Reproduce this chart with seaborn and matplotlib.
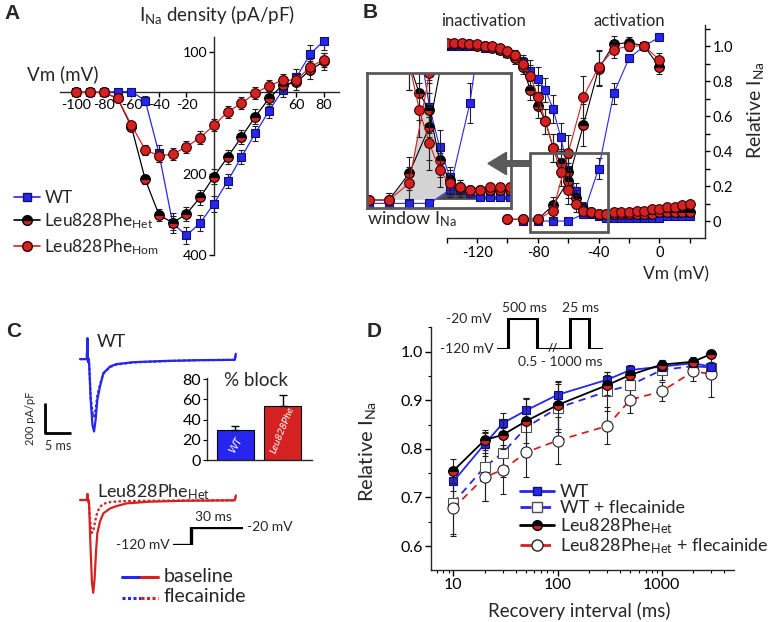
import numpy as np
import matplotlib
matplotlib.use('Agg')
import matplotlib.pyplot as plt
from matplotlib.lines import Line2D
from matplotlib.patches import Rectangle
from matplotlib.ticker import MultipleLocator, LogLocator, NullFormatter
import seaborn as sns

sns.set_style('ticks')
plt.rcParams['font.family'] = ['Lato', 'DejaVu Sans']
plt.rcParams['mathtext.fontset'] = 'custom'
plt.rcParams['mathtext.rm'] = 'Lato'
plt.rcParams['mathtext.it'] = 'Lato:italic'
plt.rcParams['axes.unicode_minus'] = False
plt.rcParams['axes.linewidth'] = 1.0
plt.rcParams['xtick.color'] = 'black'
plt.rcParams['ytick.color'] = 'black'

W, H = 769, 622
BLUE = '#2626ee'
RED = '#d42222'
GRAY = '#5a5a5a'

# ---- panel A: I-V relationship ----
iv_v = [-100, -90, -80, -70, -60, -50, -40, -30, -20, -10, 0, 10, 20, 30, 40, 50, 60, 70, 80]
iv_wt = [0, 0, 0, 2, 2, -20, -150, -322, -352, -321, -274, -218, -159, -101, -46, 6, 37, 94, 127]
iv_het = [0, 0, 0, -15, -85, -214, -301, -321, -299, -258, -207, -159, -110, -60, -15, 18, 25, 55, 76]
iv_hom = [0, 0, 0, -15, -81, -141, -156, -152, -134, -111, -81, -48, -27, -2, 16, 30, 30, 63, 80]
iv_wt_err = [2, 2, 2, 4, 6, 10, 20, 25, 22, 20, 20, 18, 18, 18, 18, 18, 20, 22, 22]
iv_het_err = [2, 2, 2, 6, 10, 12, 15, 18, 18, 18, 18, 18, 18, 18, 18, 18, 20, 22, 22]
iv_hom_err = [2, 2, 2, 6, 8, 12, 15, 15, 15, 15, 15, 15, 15, 15, 15, 15, 15, 18, 18]

# ---- panel B: inactivation / activation ----
inact_v = [-140, -135, -130, -125, -120, -115, -110, -105, -100, -95, -90, -85, -80, -75, -70,
           -65, -60, -55, -50, -45, -40, -35, -30, -25, -20, -15, -10, -5, 0, 5, 10, 15, 20]
inact_wt = [1.00, 1.00, 1.00, 1.00, 1.00, 0.99, 0.99, 0.98, 0.96, 0.94, 0.91, 0.86, 0.81, 0.75, 0.64,
            0.48, 0.29, 0.17, 0.08, 0.04, 0.03, 0.02, 0.02, 0.02, 0.02, 0.02, 0.02, 0.02, 0.02, 0.03, 0.03, 0.03, 0.03]
inact_het = [1.01, 1.01, 1.01, 1.01, 1.00, 1.00, 0.99, 0.98, 0.96, 0.93, 0.88, 0.75, 0.66, 0.57, 0.42,
             0.33, 0.28, 0.13, 0.07, 0.05, 0.04, 0.04, 0.04, 0.04, 0.04, 0.04, 0.04, 0.04, 0.05, 0.05, 0.05, 0.05, 0.05]
inact_hom = [1.02, 1.02, 1.02, 1.01, 1.01, 1.00, 1.00, 0.99, 0.97, 0.95, 0.90, 0.83, 0.71, 0.57, 0.42,
             0.28, 0.18, 0.10, 0.06, 0.05, 0.04, 0.04, 0.05, 0.05, 0.05, 0.06, 0.06, 0.07, 0.07, 0.08, 0.08, 0.09, 0.10]
inact_err = [0.01, 0.01, 0.01, 0.01, 0.01, 0.01, 0.01, 0.02, 0.02, 0.03, 0.04, 0.06, 0.07, 0.07, 0.08,
             0.08, 0.08, 0.05, 0.03, 0.02, 0.01, 0.01, 0.01, 0.01, 0.01, 0.01, 0.01, 0.01, 0.01, 0.01, 0.01, 0.01, 0.01]
act_v = [-100, -90, -80, -70, -60, -50, -40, -30, -20, -10, 0]
act_het = [0.01, 0.01, 0.01, 0.09, 0.23, 0.55, 0.87, 1.01, 1.02, 1.00, 0.88]
act_hom = [0.01, 0.01, 0.01, 0.06, 0.39, 0.71, 0.88, 0.98, 1.00, 1.00, 0.92]
act_err = [0.01, 0.01, 0.02, 0.05, 0.10, 0.12, 0.10, 0.05, 0.03, 0.02, 0.04]
act_wt_v = [-90, -80, -70, -60, -50, -40, -30, -20, -10, 0]
act_wt = [0.0, 0.0, 0.0, 0.0, 0.04, 0.30, 0.73, 0.93, 1.00, 1.05]
act_wt_err = [0.005, 0.005, 0.005, 0.005, 0.02, 0.06, 0.06, 0.02, 0.02, 0.01]

# ---- panel C: traces, protocol, % block ----
wt_t = [0, 1.3, 1.45, 1.55, 1.7, 1.8, 2.05, 2.4, 2.7, 3.0, 3.33, 3.85, 4.5, 5.8, 7.0, 10.3, 16.7, 23, 29.8, 30]
wt_base = [0, 0, 137, -20, 0, -60, -266, -430, -473, -400, -266, -179, -92, -48, -33, -20, -12, -7, -5, 35]
wt_flec = [0, 0, 137, -20, 0, -60, -240, -350, -375, -330, -240, -165, -95, -52, -36, -22, -13, -7, -5, 35]
het_t = [0, 1.3, 1.45, 1.55, 1.7, 1.8, 2.05, 2.3, 2.55, 2.8, 3.1, 3.33, 3.85, 4.5, 5.8, 7.0, 9.0, 13.5, 20, 29.8, 30]
het_base = [0, 0, 40, -10, 0, -80, -330, -540, -606, -520, -330, -218, -140, -87, -55, -40, -22, -11, -5, -2, 30]
het_flec = [0, 0, 40, -10, 0, -60, -170, -215, -200, -160, -110, -80, -45, -25, -14, -10, -7, -5, -3, -2, 30]
step_t = [-10, 0, 0, 30]
step_mv = [-120, -120, -20, -20]
block_groups = ['WT', 'Leu828Phe']
block_pct = [30, 53]
block_err = [4, 11]

# ---- panel D: recovery from inactivation ----
rec_ms = [10, 20, 30, 50, 100, 300, 500, 1000, 2000, 3000]
rec_wt = [0.733, 0.810, 0.853, 0.879, 0.911, 0.942, 0.962, 0.969, 0.976, 0.969]
rec_wt_flec = [0.689, 0.763, 0.792, 0.844, 0.884, 0.918, 0.931, 0.962, 0.970, 0.967]
rec_het = [0.755, 0.818, 0.829, 0.857, 0.890, 0.931, 0.952, 0.973, 0.979, 0.995]
rec_het_flec = [0.678, 0.742, 0.757, 0.793, 0.817, 0.847, 0.901, 0.918, 0.959, 0.954]
rec_wt_err = [0.02, 0.025, 0.02, 0.025, 0.027, 0.015, 0.01, 0.01, 0.008, 0.01]
rec_wt_flec_err = [0.065, 0.07, 0.05, 0.06, 0.05, 0.04, 0.03, 0.02, 0.015, 0.02]
rec_het_err = [0.025, 0.02, 0.03, 0.045, 0.05, 0.02, 0.01, 0.01, 0.01, 0.008]
rec_het_flec_err = [0.058, 0.05, 0.05, 0.05, 0.048, 0.038, 0.028, 0.02, 0.02, 0.048]
pulse_x = [0, 11.6, 11.6, 40, 40, 73.3, 73.3, 92.6, 92.6, 106.6]
pulse_mv = [-120, -120, -20, -20, -120, -120, -20, -20, -120, -120]


def fx(px):
    return px / W


def fy(py):
    return 1 - py / H


def box(l, t, r, b):
    return [fx(l), fy(b), (r - l) / W, (b - t) / H]


STYLES = {
    'wt': dict(color=BLUE, marker='s', markersize=6, markerfacecolor=BLUE, markeredgecolor='#101070'),
    'het': dict(color='black', marker='o', markersize=7, fillstyle='top', markerfacecolor='black',
                markerfacecoloralt=RED, markeredgecolor='black'),
    'hom': dict(color=RED, marker='o', markersize=7, markerfacecolor=RED, markeredgecolor='#3a0000'),
    'wt_flec': dict(color=BLUE, marker='s', markersize=6.5, markerfacecolor='white',
                    markeredgecolor='#505050', linestyle=(0, (4, 3))),
    'het_flec': dict(color=RED, marker='o', markersize=8, markerfacecolor='white',
                     markeredgecolor='#202020', linestyle=(0, (4, 3))),
}


def series(ax, x, y, err, key, lw=0.9, z=3, cap=2.2):
    ax.errorbar(x, y, yerr=err, fmt='none', ecolor='#202020', elinewidth=0.8,
                capsize=cap, capthick=0.8, zorder=z - 0.5)
    sns.lineplot(x=x, y=y, ax=ax, lw=lw, markeredgewidth=0.8, zorder=z, **STYLES[key])


fig = plt.figure(figsize=(W / 100, H / 100), dpi=100)

# ================= A =================
ax_a = fig.add_axes(box(60, 36.7, 339, 255))
series(ax_a, iv_v, iv_wt, iv_wt_err, 'wt', z=3)
series(ax_a, iv_v, iv_het, iv_het_err, 'het', z=4)
series(ax_a, iv_v, iv_hom, iv_hom_err, 'hom', z=5)
ax_a.set_xlim(-112, 91)
ax_a.set_ylim(-400, 137)
for s in ['top', 'right']:
    ax_a.spines[s].set_visible(False)
ax_a.spines['left'].set_position(('data', 0))
ax_a.spines['bottom'].set_position(('data', 0))
ax_a.set_xticks([-100, -80, -60, -40, -20, 60, 80])
ax_a.set_xticklabels(['-100', '-80', '-60', '-40', '-20', '60', '80'])
ax_a.set_yticks([100, -200, -400])
ax_a.set_yticklabels(['100', '200', '400'])
ax_a.tick_params(labelsize=10.3, length=3.5, width=1, pad=1.5)
ax_a.set_xlabel('')
ax_a.set_ylabel('')
fig.text(fx(139), fy(14), r'I$_{\mathregular{Na}}$ density (pA/pF)', fontsize=13.5, va='center')
fig.text(fx(27), fy(74), 'Vm (mV)', fontsize=13.5, va='center')

leg_a = [Line2D([], [], lw=1.2, **STYLES['wt']),
         Line2D([], [], lw=1.2, **STYLES['het']),
         Line2D([], [], lw=1.2, **STYLES['hom'])]
fig.legend(leg_a, ['WT', r'Leu828Phe$_{\mathregular{Het}}$', r'Leu828Phe$_{\mathregular{Hom}}$'],
           loc='upper left', bbox_to_anchor=(fx(14), fy(190)), frameon=False, fontsize=12.5,
           handlelength=1.5, handletextpad=0.25, labelspacing=0.32, borderpad=0, borderaxespad=0)

# ================= B =================
ax_b = fig.add_axes(box(446.7, 25, 705, 238))
ax_in = fig.add_axes(box(366.7, 73.3, 510.7, 207.7))
for ax in (ax_b, ax_in):
    series(ax, inact_v, inact_wt, inact_err, 'wt', lw=0.8, z=3)
    series(ax, act_wt_v, act_wt, act_wt_err, 'wt', lw=0.8, z=3)
    series(ax, inact_v, inact_het, inact_err, 'het', lw=0.8, z=4)
    series(ax, act_v, act_het, act_err, 'het', lw=0.8, z=4)
    series(ax, inact_v, inact_hom, inact_err, 'hom', lw=0.8, z=5)
    series(ax, act_v, act_hom, act_err, 'hom', lw=0.8, z=5)
    ax.set_xlabel('')
    ax.set_ylabel('')

ax_b.set_xlim(-138.8, 30)
ax_b.set_ylim(-0.097, 1.12)
ax_b.spines['left'].set_visible(False)
ax_b.spines['top'].set_visible(False)
ax_b.yaxis.tick_right()
ax_b.set_yticks([0, 0.2, 0.4, 0.6, 0.8, 1.0])
ax_b.set_yticklabels(['0', '0.2', '0.4', '0.6', '0.8', '1.0'])
ax_b.yaxis.set_minor_locator(MultipleLocator(0.1))
ax_b.set_xticks([-120, -80, -40, 0])
ax_b.set_xticks([-140, -100, -60, -20, 20], minor=True)
ax_b.tick_params(labelsize=10.5, length=3.5, width=1, pad=2)
ax_b.tick_params(which='minor', length=3.5, width=1)
ax_b.add_patch(Rectangle((-85, -0.065), 51, 0.452, fill=False, ec=GRAY, lw=2, zorder=6))
fig.text(fx(484), fy(21), 'inactivation', fontsize=12, ha='center', va='center')
fig.text(fx(629), fy(21), 'activation', fontsize=12, ha='center', va='center')
fig.text(fx(709), fy(274), 'Vm (mV)', fontsize=12.5, ha='right', va='center')
fig.text(fx(755), fy(110), r'Relative I$_{\mathregular{Na}}$', fontsize=14, rotation=90,
         ha='center', va='center')
fig.text(fx(367), fy(209), r'window I$_{\mathregular{Na}}$', fontsize=13, ha='left', va='top')
fig.patches.append(matplotlib.patches.FancyArrow(
    fx(530), fy(163.5), fx(488) - fx(530), 0, width=0.009, head_width=0.036, head_length=0.024,
    length_includes_head=True, color=GRAY, transform=fig.transFigure, figure=fig))

# inset: window current
grid_v = np.linspace(-80, -20, 241)
act_env = np.interp(grid_v, act_v, np.maximum(act_het, act_hom))
inact_env = np.interp(grid_v, inact_v, np.maximum(inact_het, inact_hom))
ax_in.fill_between(grid_v, 0.012, np.maximum(np.minimum(act_env, inact_env), 0.012),
                   color='#d3d3d3', lw=0, zorder=1)
wt_a = np.interp(grid_v, act_wt_v, act_wt)
wt_i = np.interp(grid_v, inact_v, inact_wt)
dark = np.minimum(wt_a, wt_i)
ax_in.fill_between(grid_v, 0.012, np.maximum(dark, 0.012), where=grid_v >= -57,
                   color='#4a4a4a', lw=0, zorder=1.5)
ax_in.set_xlim(-91, -19.8)
ax_in.set_ylim(-0.013, 0.39)
ax_in.set_xticks([])
ax_in.set_yticks([])
for s in ax_in.spines.values():
    s.set_color(GRAY)
    s.set_linewidth(2)
    s.set_zorder(10)
ax_in.set_facecolor('white')

# ================= C =================
ax_c1 = fig.add_axes(box(40, 330, 240, 450))
sns.lineplot(x=wt_t, y=wt_base, ax=ax_c1, color=BLUE, lw=1.6, sort=False, estimator=None)
sns.lineplot(x=wt_t, y=wt_flec, ax=ax_c1, color=BLUE, lw=1.6, sort=False, estimator=None,
             linestyle=(0, (1.2, 1)))
ax_c1.plot([-6.7, -6.7, -1.7], [-284, -484, -484], color='black', lw=2, solid_capstyle='butt')
ax_c1.set_xlim(-7.7, 30.8)
ax_c1.set_ylim(-594, 190)
ax_c1.axis('off')

ax_c2 = fig.add_axes(box(40, 470, 240, 605))
sns.lineplot(x=het_t, y=het_base, ax=ax_c2, color=RED, lw=1.6, sort=False, estimator=None)
sns.lineplot(x=het_t, y=het_flec, ax=ax_c2, color=RED, lw=1.6, sort=False, estimator=None,
             linestyle=(0, (1.2, 1)))
ax_c2.set_xlim(-7.7, 30.8)
ax_c2.set_ylim(-686, 196)
ax_c2.axis('off')

fig.text(fx(97), fy(342), 'WT', fontsize=13, ha='left', va='center')
fig.text(fx(97), fy(492), r'Leu828Phe$_{\mathregular{Het}}$', fontsize=13, ha='left', va='center')
fig.text(fx(30), fy(418), '200 pA/pF', fontsize=8, rotation=90, ha='center', va='center')
fig.text(fx(58), fy(446), '5 ms', fontsize=9, ha='center', va='center')

ax_cp = fig.add_axes(box(173, 526.7, 243, 545))
sns.lineplot(x=step_t, y=step_mv, ax=ax_cp, color='black', lw=2.4, sort=False, estimator=None)
ax_cp.set_xlim(-10, 30)
ax_cp.set_ylim(-120, -20)
ax_cp.axis('off')
fig.text(fx(170), fy(545), '-120 mV', fontsize=10, ha='right', va='center')
fig.text(fx(247), fy(527), '-20 mV', fontsize=10, ha='left', va='center')
fig.text(fx(213), fy(517), '30 ms', fontsize=10, ha='center', va='center')

fig.add_artist(Line2D([fx(122), fx(141)], [fy(576.7)] * 2, color=BLUE, lw=2.2))
fig.add_artist(Line2D([fx(141), fx(158)], [fy(576.7)] * 2, color=RED, lw=2.2))
fig.add_artist(Line2D([fx(122), fx(141)], [fy(598.3)] * 2, color=BLUE, lw=2.2, ls=(0, (1, 0.8))))
fig.add_artist(Line2D([fx(141), fx(158)], [fy(598.3)] * 2, color=RED, lw=2.2, ls=(0, (1, 0.8))))
fig.text(fx(164), fy(576), 'baseline', fontsize=14, ha='left', va='center')
fig.text(fx(164), fy(597), 'flecainide', fontsize=14, ha='left', va='center')

ax_bar = fig.add_axes(box(206.7, 377.5, 311.7, 460))
sns.barplot(x=block_groups, y=block_pct, hue=block_groups, palette=[BLUE, RED], legend=False,
            ax=ax_bar, edgecolor='black', linewidth=0.8, width=0.78, saturation=1)
ax_bar.errorbar([0, 1], block_pct, yerr=[[0, 0], block_err], fmt='none', ecolor='black',
                elinewidth=1, capsize=3, capthick=1)
ax_bar.set_xlim(-0.61, 1.62)
ax_bar.set_ylim(0, 81.5)
ax_bar.set_yticks([0, 20, 40, 60, 80])
ax_bar.set_xticks([])
ax_bar.tick_params(labelsize=11.5, length=3, pad=1)
ax_bar.spines['top'].set_visible(False)
ax_bar.spines['right'].set_visible(False)
ax_bar.set_xlabel('')
ax_bar.set_ylabel('')
ax_bar.text(0, 15, 'WT', rotation=60, color='white', style='italic', fontsize=8,
            ha='center', va='center')
ax_bar.text(1, 30, 'Leu828Phe', rotation=68, color='white', style='italic', fontsize=7.5,
            ha='center', va='center')
fig.text(fx(256), fy(381), '% block', fontsize=13.5, ha='center', va='center')

# ================= D =================
ax_d = fig.add_axes(box(431, 326.7, 734, 570))
series(ax_d, rec_ms, rec_wt_flec, rec_wt_flec_err, 'wt_flec', lw=1.3, z=3, cap=2.5)
series(ax_d, rec_ms, rec_het_flec, rec_het_flec_err, 'het_flec', lw=1.3, z=3, cap=2.5)
series(ax_d, rec_ms, rec_wt, rec_wt_err, 'wt', lw=1.3, z=4, cap=2.5)
series(ax_d, rec_ms, rec_het, rec_het_err, 'het', lw=1.3, z=5, cap=2.5)
ax_d.set_xscale('log')
ax_d.set_xlim(6.1, 4950)
ax_d.set_ylim(0.551, 1.051)
ax_d.set_xticks([10, 100, 1000])
ax_d.set_xticklabels(['10', '100', '1000'])
ax_d.xaxis.set_minor_locator(LogLocator(base=10, subs=np.arange(2, 10)))
ax_d.xaxis.set_minor_formatter(NullFormatter())
ax_d.set_yticks([0.6, 0.7, 0.8, 0.9, 1.0])
ax_d.set_yticklabels(['0.6', '0.7', '0.8', '0.9', '1.0'])
ax_d.yaxis.set_minor_locator(MultipleLocator(0.05))
ax_d.tick_params(labelsize=11.5, length=4, width=1, pad=2)
ax_d.tick_params(which='minor', length=2.5, width=0.8)
ax_d.spines['top'].set_visible(False)
ax_d.spines['right'].set_visible(False)
ax_d.set_xlabel('')
ax_d.set_ylabel('')
fig.text(fx(579), fy(611), 'Recovery interval (ms)', fontsize=13.5, ha='center', va='center')
fig.text(fx(367), fy(452), r'Relative I$_{\mathregular{Na}}$', fontsize=14.5, rotation=90,
         ha='center', va='center')

leg_d = [Line2D([], [], lw=2, **STYLES['wt']),
         Line2D([], [], lw=2, **STYLES['wt_flec']),
         Line2D([], [], lw=2, **STYLES['het']),
         Line2D([], [], lw=2, **STYLES['het_flec'])]
fig.legend(leg_d, ['WT', 'WT + flecainide', r'Leu828Phe$_{\mathregular{Het}}$',
                   r'Leu828Phe$_{\mathregular{Het}}$ + flecainide'],
           loc='upper left', bbox_to_anchor=(fx(520), fy(484)), frameon=False, fontsize=13,
           handlelength=1.9, handletextpad=0.3, labelspacing=0.02, borderpad=0, borderaxespad=0)

ax_dp = fig.add_axes(box(496.7, 318.3, 603.3, 349.3))
sns.lineplot(x=pulse_x, y=pulse_mv, ax=ax_dp, color='black', lw=2.2, sort=False, estimator=None)
ax_dp.set_xlim(0, 106.6)
ax_dp.set_ylim(-120, -20)
ax_dp.axis('off')
fig.text(fx(492), fy(319), '-20 mV', fontsize=10, ha='right', va='center')
fig.text(fx(494), fy(349), '-120 mV', fontsize=10, ha='right', va='center')
fig.text(fx(525), fy(308), '500 ms', fontsize=10, ha='center', va='center')
fig.text(fx(581), fy(308), '25 ms', fontsize=10, ha='center', va='center')
fig.text(fx(560), fy(362), '0.5 - 1000 ms', fontsize=10, ha='center', va='center')
fig.text(fx(553), fy(349), '//', fontsize=8, ha='center', va='center', fontweight='bold')

# panel letters
for letter, (px, py) in {'A': (4, 4), 'B': (363, 3), 'C': (6, 322), 'D': (367, 322)}.items():
    fig.text(fx(px), fy(py), letter, fontsize=15, fontweight='bold', ha='left', va='top',
             family='Liberation Sans')

fig.savefig('out.png', dpi=100)
